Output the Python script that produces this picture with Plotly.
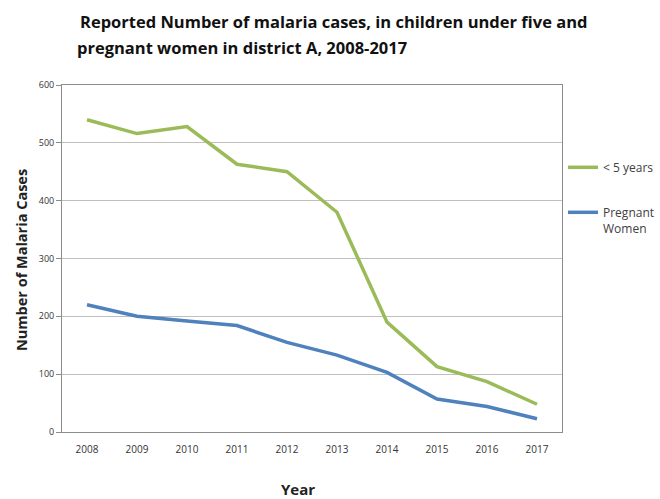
import plotly.graph_objects as go

years = ["2008", "2009", "2010", "2011", "2012", "2013", "2014", "2015", "2016", "2017"]
under_five = [540, 516, 528, 463, 450, 380, 190, 113, 87, 48]
pregnant = [220, 200, 192, 184, 155, 133, 103, 57, 44, 23]
y_ticks = [0, 100, 200, 300, 400, 500, 600]

title_line1 = "Reported Number of malaria cases, in children under five and"
title_line2 = "pregnant women in district A, 2008-2017"

fig = go.Figure()
fig.add_trace(go.Scatter(x=years, y=under_five, mode="lines", name="< 5 years",
                         legendgroup="a",
                         line=dict(color="#9BBB59", width=3.5)))
fig.add_trace(go.Scatter(x=years, y=pregnant, mode="lines", name="Pregnant<br>Women",
                         legendgroup="b",
                         line=dict(color="#4F81BD", width=3.5)))

font_family = "'Open Sans', Lato, sans-serif"
W, H = 660, 499
PH = 347  # plot height in px (for placing annotations)
PW = 500

fig.update_layout(
    width=W, height=H,
    margin=dict(l=62, r=98, t=85, b=67),
    paper_bgcolor="white", plot_bgcolor="white",
    font=dict(family=font_family, color="#333333"),
    showlegend=True,
    legend=dict(xref="container", yref="container", x=563 / W, y=1 - 153 / H,
                xanchor="left", yanchor="top", valign="top",
                font=dict(size=12, color="#404040", family=font_family),
                itemwidth=30, tracegroupgap=26, bgcolor="rgba(0,0,0,0)"),
    xaxis=dict(type="category", range=[-0.5, 9.5], showgrid=False, automargin=False,
               showline=True, linecolor="#8C8C8C", linewidth=1, mirror=True,
               tickfont=dict(size=10, color="#333333"), ticks="", ticklabelstandoff=8),
    yaxis=dict(range=[0, 600], tickvals=y_ticks, showgrid=True, gridcolor="#BFBFBF", gridwidth=1,
               showline=True, linecolor="#8C8C8C", linewidth=1, mirror=True, automargin=False,
               ticks="outside", ticklen=5, tickcolor="#8C8C8C",
               tickfont=dict(size=9, color="#333333"), zeroline=False),
)

fig.add_annotation(
    text="<b>Year</b>", xref="paper", yref="paper",
    x=(298 - 62) / PW, y=-(489 - 432) / PH, xanchor="center", yanchor="middle",
    showarrow=False, font=dict(size=15, color="#222222", family=font_family),
)
fig.add_annotation(
    text="<b>Number of Malaria Cases</b>", xref="paper", yref="paper", textangle=-90,
    x=-(62 - 21) / PW, y=(432 - 260) / PH, xanchor="center", yanchor="middle",
    showarrow=False, font=dict(size=14.5, color="#222222", family=font_family),
)
fig.add_annotation(
    text="<b>" + title_line1 + "</b>",
    xref="paper", yref="paper", x=(78 - 62) / PW, y=1 + (85 - 22) / PH,
    xanchor="left", yanchor="middle", align="left", showarrow=False,
    font=dict(size=16.5, color="#111111", family=font_family),
)
fig.add_annotation(
    text="<b>" + title_line2 + "</b>",
    xref="paper", yref="paper", x=(75 - 62) / PW, y=1 + (85 - 47) / PH,
    xanchor="left", yanchor="middle", align="left", showarrow=False,
    font=dict(size=16.5, color="#111111", family=font_family),
)

fig.write_html("out.html")
